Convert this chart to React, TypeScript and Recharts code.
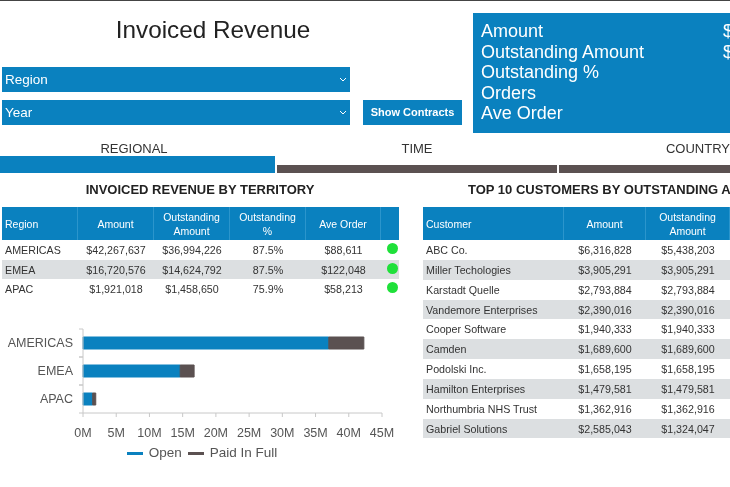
import React from 'react';
import { BarChart, Bar, XAxis, YAxis, Legend } from 'recharts';

const BLUE = '#0a81bf';
const GREY = '#5b5151';
const BAND = '#dcdfe1';
const FONT = '"Liberation Sans", Arial, sans-serif';

const kpiLabels = ['Amount', 'Outstanding Amount', 'Outstanding %', 'Orders', 'Ave Order'];
const kpiValues = ['$', '$', '', '', ''];

const regions = ['AMERICAS', 'EMEA', 'APAC'];
const regionAmount = ['$42,267,637', '$16,720,576', '$1,921,018'];
const regionOutstanding = ['$36,994,226', '$14,624,792', '$1,458,650'];
const regionPct = ['87.5%', '87.5%', '75.9%'];
const regionAve = ['$88,611', '$122,048', '$58,213'];

const openValues = [36994226, 14624792, 1458650];
const paidValues = [5273411, 2095784, 462368];
const xTicks = [0, 5e6, 10e6, 15e6, 20e6, 25e6, 30e6, 35e6, 40e6, 45e6];

const customers = [
  'ABC Co.',
  'Miller Techologies',
  'Karstadt Quelle',
  'Vandemore Enterprises',
  'Cooper Software',
  'Camden',
  'Podolski Inc.',
  'Hamilton Enterprises',
  'Northumbria NHS Trust',
  'Gabriel Solutions',
];
const customerAmount = [
  '$6,316,828', '$3,905,291', '$2,793,884', '$2,390,016', '$1,940,333',
  '$1,689,600', '$1,658,195', '$1,479,581', '$1,362,916', '$2,585,043',
];
const customerOutstanding = [
  '$5,438,203', '$3,905,291', '$2,793,884', '$2,390,016', '$1,940,333',
  '$1,689,600', '$1,658,195', '$1,479,581', '$1,362,916', '$1,324,047',
];

const chartData = regions.map((region, i) => ({
  region,
  open: openValues[i],
  paid: paidValues[i],
}));

function Box({ x, y, w, h, bg, children, style }: any) {
  return (
    <div
      style={{
        position: 'absolute',
        left: x,
        top: y,
        width: w,
        height: h,
        background: bg,
        whiteSpace: 'nowrap',
        ...style,
      }}
    >
      {children}
    </div>
  );
}

function Label({ cx, y, children, style }: any) {
  return (
    <div
      style={{
        position: 'absolute',
        left: cx - 150,
        width: 300,
        top: y,
        textAlign: 'center',
        whiteSpace: 'nowrap',
        color: '#333',
        ...style,
      }}
    >
      {children}
    </div>
  );
}

function Dropdown({ y, label }: { y: number; label: string }) {
  return (
    <Box x={2} y={y} w={348} h={25} bg={BLUE} style={{ color: '#fff', fontSize: 13.5, lineHeight: '25px' }}>
      <span style={{ marginLeft: 3 }}>{label}</span>
      <svg width={8} height={6} style={{ position: 'absolute', left: 337, top: 10 }}>
        <path d="M1 1 L4 4 L7 1" fill="none" stroke="#fff" strokeWidth={1} />
      </svg>
    </Box>
  );
}

function HeadCell({ x, w, children, left }: any) {
  return (
    <div
      style={{
        position: 'absolute',
        left: x,
        width: w,
        top: 0,
        height: 33,
        display: 'flex',
        alignItems: 'center',
        justifyContent: left ? 'flex-start' : 'center',
        textAlign: left ? 'left' : 'center',
        paddingLeft: left ? 3 : 0,
        boxSizing: 'border-box',
        color: '#fff',
        fontSize: 10.5,
        lineHeight: '14px',
        borderRight: '1px solid #2b95cc',
      }}
    >
      {children}
    </div>
  );
}

function RowCell({ x, w, children, left }: any) {
  return (
    <div
      style={{
        position: 'absolute',
        left: x,
        width: w,
        top: 0,
        textAlign: left ? 'left' : 'center',
        paddingLeft: left ? 3 : 0,
        boxSizing: 'border-box',
        lineHeight: '20px',
        fontSize: 10.7,
        color: '#333',
      }}
    >
      {children}
    </div>
  );
}

function RegionTable() {
  const cols = [0, 76, 152, 228, 304, 379];
  const widths = [76, 76, 76, 76, 75, 18];
  return (
    <Box x={2} y={207} w={397} h={92}>
      <Box x={0} y={0} w={397} h={33} bg={BLUE}>
        <HeadCell x={cols[0]} w={widths[0]} left>Region</HeadCell>
        <HeadCell x={cols[1]} w={widths[1]}>Amount</HeadCell>
        <HeadCell x={cols[2]} w={widths[2]}>Outstanding<br />Amount</HeadCell>
        <HeadCell x={cols[3]} w={widths[3]}>Outstanding<br />%</HeadCell>
        <HeadCell x={cols[4]} w={widths[4]}>Ave Order</HeadCell>
      </Box>
      {regions.map((region, i) => (
        <Box key={region} x={0} y={33 + i * 19.5} w={397} h={19.5} bg={i === 1 ? BAND : 'transparent'}>
          <RowCell x={cols[0]} w={widths[0]} left>{region}</RowCell>
          <RowCell x={cols[1]} w={widths[1]}>{regionAmount[i]}</RowCell>
          <RowCell x={cols[2]} w={widths[2]}>{regionOutstanding[i]}</RowCell>
          <RowCell x={cols[3]} w={widths[3]}>{regionPct[i]}</RowCell>
          <RowCell x={cols[4]} w={widths[4]}>{regionAve[i]}</RowCell>
          <Box x={385} y={3} w={11} h={11} bg="#1fe03a" style={{ borderRadius: '50%' }} />
        </Box>
      ))}
    </Box>
  );
}

function CustomerTable() {
  const cols = [0, 141, 223];
  const widths = [141, 82, 84];
  return (
    <Box x={423} y={207} w={307} h={231}>
      <Box x={0} y={0} w={307} h={33} bg={BLUE}>
        <HeadCell x={cols[0]} w={widths[0]} left>Customer</HeadCell>
        <HeadCell x={cols[1]} w={widths[1]}>Amount</HeadCell>
        <HeadCell x={cols[2]} w={widths[2]}>Outstanding<br />Amount</HeadCell>
      </Box>
      {customers.map((customer, i) => (
        <Box key={customer} x={0} y={33 + i * 19.85} w={307} h={19.85} bg={i % 2 === 1 ? BAND : 'transparent'}>
          <RowCell x={cols[0]} w={widths[0]} left>{customer}</RowCell>
          <RowCell x={cols[1]} w={widths[1]}>{customerAmount[i]}</RowCell>
          <RowCell x={cols[2]} w={widths[2]}>{customerOutstanding[i]}</RowCell>
        </Box>
      ))}
    </Box>
  );
}

// reference has its y ticks on the band edges, not the band centres
function RegionTick({ x, y, payload }: any) {
  return (
    <g>
      <text x={x} y={y} dy={4} textAnchor="end" fontSize={12.5} fill="#555" fontFamily={FONT}>
        {payload.value}
      </text>
      <line x1={x + 6} x2={x + 10} y1={y - 14} y2={y - 14} stroke="#c8c8c8" />
      <line x1={x + 6} x2={x + 10} y1={y + 14} y2={y + 14} stroke="#c8c8c8" />
    </g>
  );
}

function LegendRow({ payload }: any) {
  return (
    <div style={{ display: 'flex', justifyContent: 'center', fontSize: 13.5, lineHeight: '16px', color: '#555', fontFamily: FONT }}>
      {(payload ?? []).map((entry: any) => (
        <div key={entry.value} style={{ display: 'flex', alignItems: 'center', marginRight: 6 }}>
          <span style={{ width: 16, height: 3, background: entry.color, marginRight: 6 }} />
          {entry.value}
        </div>
      ))}
    </div>
  );
}

function TerritoryChart() {
  return (
    <BarChart
      width={410}
      height={150}
      layout="vertical"
      data={chartData}
      margin={{ top: 9, right: 28, left: 0, bottom: 0 }}
      style={{ position: 'absolute', left: 0, top: 320 }}
    >
      <XAxis
        type="number"
        domain={[0, 45000000]}
        ticks={xTicks}
        interval={0}
        height={41}
        tickFormatter={(v) => `${v / 1000000}M`}
        tick={{ fontSize: 12.5, fill: '#555', fontFamily: FONT }}
        tickSize={4}
        tickMargin={11}
        stroke="#c8c8c8"
      />
      <YAxis
        type="category"
        dataKey="region"
        width={83}
        tick={<RegionTick />}
        tickLine={false}
        tickSize={0}
        tickMargin={10}
        stroke="#c8c8c8"
      />
      <Legend
        verticalAlign="bottom"
        content={<LegendRow />}
        wrapperStyle={{ left: 0, width: 410, bottom: 9 }}
      />
      <Bar dataKey="open" name="Open" stackId="a" fill={BLUE} stroke={BLUE} barSize={12} isAnimationActive={false} />
      <Bar dataKey="paid" name="Paid In Full" stackId="a" fill={GREY} stroke={GREY} barSize={12} isAnimationActive={false} />
    </BarChart>
  );
}

export default function App() {
  return (
    <div
      style={{
        position: 'fixed',
        left: 0,
        top: 0,
        width: 730,
        height: 487,
        overflow: 'hidden',
        background: '#fff',
        fontFamily: FONT,
        filter: 'blur(0.4px)',
      }}
    >
      <Box x={0} y={0} w={730} h={1} bg="#444" />
      <Label cx={213} y={15} style={{ fontSize: 24.3, lineHeight: '30px', color: '#222' }}>Invoiced Revenue</Label>

      <Dropdown y={67} label="Region" />
      <Dropdown y={100} label="Year" />
      <Box x={363} y={100} w={99} h={25} bg={BLUE} style={{ color: '#fff', fontSize: 11, lineHeight: '25px', textAlign: 'center', fontWeight: 'bold' }}>
        Show Contracts
      </Box>

      <Box x={473} y={13} w={257} h={120} bg={BLUE} style={{ color: '#fff', fontSize: 18, lineHeight: '20.5px' }}>
        {kpiLabels.map((label, i) => (
          <div key={label} style={{ position: 'absolute', left: 8, top: 8 + i * 20.5 }}>{label}</div>
        ))}
        {kpiValues.map((value, i) => (
          <div key={i} style={{ position: 'absolute', left: 250, top: 8 + i * 20.5 }}>{value}</div>
        ))}
      </Box>

      <Label cx={134} y={141} style={{ fontSize: 13 }}>REGIONAL</Label>
      <Label cx={417} y={141} style={{ fontSize: 13 }}>TIME</Label>
      <Label cx={698} y={141} style={{ fontSize: 13 }}>COUNTRY</Label>
      <Box x={0} y={156} w={275} h={17} bg={BLUE} />
      <Box x={277} y={165} w={280} h={8} bg={GREY} />
      <Box x={559} y={165} w={171} h={8} bg={GREY} />

      <Label cx={200} y={182} style={{ fontSize: 13, fontWeight: 'bold', color: '#222' }}>INVOICED REVENUE BY TERRITORY</Label>
      <Box x={468} y={182} w={262} h={16} style={{ fontSize: 13, fontWeight: 'bold', color: '#222', overflow: 'hidden' }}>
        TOP 10 CUSTOMERS BY OUTSTANDING AMOUNT
      </Box>

      <RegionTable />
      <CustomerTable />
      <TerritoryChart />
    </div>
  );
}
